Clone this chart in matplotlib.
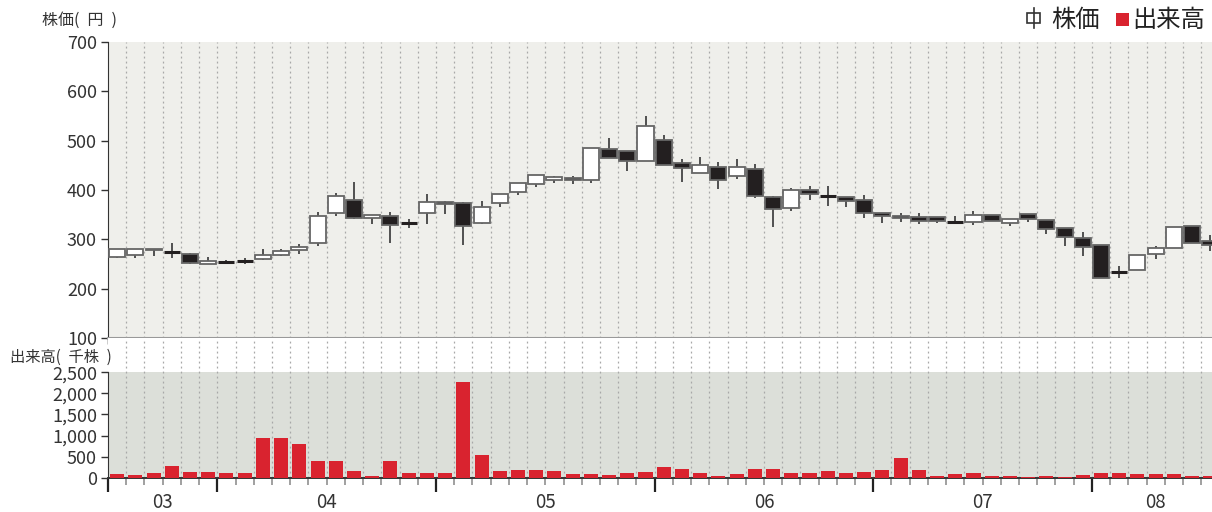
import numpy as np
import matplotlib
matplotlib.use("Agg")
import matplotlib.pyplot as plt
from matplotlib.patches import Rectangle
from matplotlib.lines import Line2D
from matplotlib.ticker import FuncFormatter

plt.rcParams["font.family"] = ["Noto Sans CJK JP", "DejaVu Sans"]

# -------------------------
# Data (monthly candles, Jul 2003 - Jul 2008)
# -------------------------
opens = [264, 268, 281, 274, 270, 251, 255, 256, 260, 268, 278, 293, 353, 380, 343, 347,
         333, 354, 376, 374, 333, 373, 396, 412, 420, 425, 420, 483, 479, 459, 501, 454,
         434, 447, 428, 443, 386, 364, 400, 388, 385, 380, 353, 348, 346, 346, 336, 336,
         349, 333, 351, 339, 322, 302, 289, 233, 237, 270, 283, 328, 297]
highs = [280, 281, 281, 292, 272, 264, 259, 262, 281, 280, 290, 355, 393, 416, 349, 355,
         341, 392, 378, 375, 378, 392, 414, 430, 429, 428, 485, 506, 479, 549, 511, 462,
         467, 457, 462, 452, 387, 405, 408, 408, 385, 390, 353, 353, 354, 346, 347, 358,
         349, 341, 352, 339, 322, 314, 289, 246, 269, 287, 324, 328, 309]
lows = [263, 262, 266, 262, 251, 251, 250, 251, 259, 267, 270, 287, 348, 342, 331, 292,
        322, 331, 352, 288, 332, 366, 390, 407, 414, 413, 415, 464, 439, 459, 451, 416,
        434, 403, 422, 384, 326, 358, 380, 368, 366, 344, 334, 335, 331, 334, 331, 329,
        337, 327, 336, 311, 286, 266, 221, 221, 237, 260, 283, 293, 277]
closes = [280, 280, 278, 274, 252, 257, 255, 256, 268, 276, 284, 347, 388, 343, 349, 330,
          333, 376, 372, 327, 366, 391, 414, 430, 426, 420, 485, 464, 459, 530, 451, 445,
          451, 421, 446, 388, 362, 400, 391, 388, 378, 354, 347, 344, 337, 337, 336, 349,
          337, 341, 341, 320, 305, 284, 221, 233, 269, 282, 324, 293, 289]
volumes = [90, 60, 120, 280, 140, 140, 120, 120, 950, 950, 800, 400, 400, 170, 50, 400,
           120, 120, 120, 2270, 550, 170, 190, 190, 170, 90, 90, 70, 120, 140, 260, 210,
           120, 50, 90, 210, 210, 120, 120, 170, 120, 140, 190, 470, 190, 50, 90, 120,
           50, 50, 5, 50, 25, 70, 120, 120, 90, 90, 90, 50, 50]

year_labels = ["03", "04", "05", "06", "07", "08"]
year_starts = [0, 6, 18, 30, 42, 54]

price_ticks = [100, 200, 300, 400, 500, 600, 700]
volume_ticks = [0, 500, 1000, 1500, 2000, 2500]

PRICE_BG = "#efefeb"
VOL_BG = "#dcdfd9"
RED = "#d9232f"
DARK = "#231f20"
EDGE = "#666666"
TEXT = "#333333"


def draw_candles(ax, n):
    w = 0.88
    for i in range(n):
        x = i + 0.5
        o, h, l, c = opens[i], highs[i], lows[i], closes[i]
        ax.vlines(x, l, h, color="#444444", lw=1.3, zorder=2)
        if o == c:
            ax.hlines(o, x - w / 2, x + w / 2, color=DARK, lw=2.2, zorder=3)
            continue
        face = "white" if c > o else DARK
        ax.add_patch(Rectangle((x - w / 2, min(o, c)), w, abs(c - o),
                               facecolor=face, edgecolor=EDGE, lw=1.3, zorder=3))


def main() -> None:
    n = len(closes)
    xmax = 60.59

    fig = plt.figure(figsize=(12.12, 5.12), dpi=100)
    ax_p = fig.add_axes([108 / 1212, 174 / 512, 1104 / 1212, 296 / 512])
    ax_v = fig.add_axes([108 / 1212, 34.3 / 512, 1104 / 1212, 139.7 / 512])

    # -------------------------
    # Price panel
    # -------------------------
    ax_p.set_facecolor(PRICE_BG)
    ax_p.vlines(np.arange(1, n), 100, 700, color="#a8a8a8", lw=0.9,
                linestyle=(0, (1.5, 2.5)), zorder=1)
    draw_candles(ax_p, n)
    ax_p.set_xlim(0, xmax)
    ax_p.set_ylim(100, 700)
    ax_p.set_yticks(price_ticks)
    ax_p.set_xticks(np.arange(0, n))
    ax_p.tick_params(axis="x", length=4, width=1, color="black", labelbottom=False)
    ax_p.tick_params(axis="y", length=5, width=1, color=TEXT, labelsize=13,
                     labelcolor=TEXT, pad=3)
    for s in ["top", "right"]:
        ax_p.spines[s].set_visible(False)
    ax_p.spines["left"].set_color(TEXT)
    ax_p.spines["bottom"].set_color("#999999")
    ax_p.spines["bottom"].set_linewidth(1.5)

    # -------------------------
    # Volume panel
    # -------------------------
    ax_v.set_facecolor("white")
    ax_v.axhspan(0, 2500, color=VOL_BG, zorder=0, lw=0)
    ymax_v = 2500 * 139.7 / 105.4
    ax_v.vlines(np.arange(1, n), 0, ymax_v, color="#a8a8a8", lw=0.9,
                linestyle=(0, (1.5, 2.5)), zorder=1)
    ax_v.bar(np.arange(n) + 0.5, volumes, width=0.77, color=RED, zorder=3)
    ax_v.set_xlim(0, xmax)
    ax_v.set_ylim(0, ymax_v)
    ax_v.set_yticks(volume_ticks)
    ax_v.yaxis.set_major_formatter(FuncFormatter(lambda v, p: f"{int(v):,}"))
    ax_v.tick_params(axis="y", length=5, width=1, color=TEXT, labelsize=13,
                     labelcolor=TEXT, pad=3)
    ax_v.set_xticks(year_starts)
    ax_v.set_xticks(np.arange(0, n), minor=True)
    ax_v.tick_params(axis="x", which="major", length=10, width=1.6, color="#222222",
                     labelbottom=False)
    ax_v.tick_params(axis="x", which="minor", length=5, width=1.3, color="#999999")
    for s in ["top", "right"]:
        ax_v.spines[s].set_visible(False)
    ax_v.spines["left"].set_bounds(0, 2500)
    ax_v.spines["left"].set_color(TEXT)
    ax_v.spines["bottom"].set_color(TEXT)
    ax_v.spines["bottom"].set_linewidth(1.4)

    ends = year_starts[1:] + [n]
    for lab, a, b in zip(year_labels, year_starts, ends):
        ax_v.text((a + b) / 2, -0.18, lab, transform=ax_v.get_xaxis_transform(),
                  ha="center", va="center", fontsize=13.5, color=TEXT)

    # -------------------------
    # Axis titles and legend
    # -------------------------
    fig.text(42 / 1212, 1 - 20 / 512, "株価(\u2002円\u2002)", ha="left", va="center",
             fontsize=11.5, color=TEXT)
    fig.text(10 / 1212, 1 - 357 / 512, "出来高(\u2002千株\u2002)", ha="left", va="center",
             fontsize=11, color=TEXT)

    # candle icon
    fig.add_artist(Line2D([1033.5 / 1212, 1033.5 / 1212], [1 - 8 / 512, 1 - 28 / 512],
                          color="#333333", lw=1.2, transform=fig.transFigure))
    fig.add_artist(Rectangle((1027 / 1212, 1 - 23 / 512), 13 / 1212, 10 / 512,
                             facecolor="white", edgecolor="#333333", lw=1.2,
                             transform=fig.transFigure))
    fig.text(1051 / 1212, 1 - 20 / 512, "株価", ha="left", va="center",
             fontsize=17.5, color="#222222")
    fig.add_artist(Rectangle((1116 / 1212, 1 - 26 / 512), 13 / 1212, 13 / 512,
                             facecolor=RED, edgecolor="none",
                             transform=fig.transFigure))
    fig.text(1132 / 1212, 1 - 20 / 512, "出来高", ha="left", va="center",
             fontsize=17.5, color="#222222")

    fig.savefig("out.png", dpi=100)
    plt.close(fig)


if __name__ == "__main__":
    main()
